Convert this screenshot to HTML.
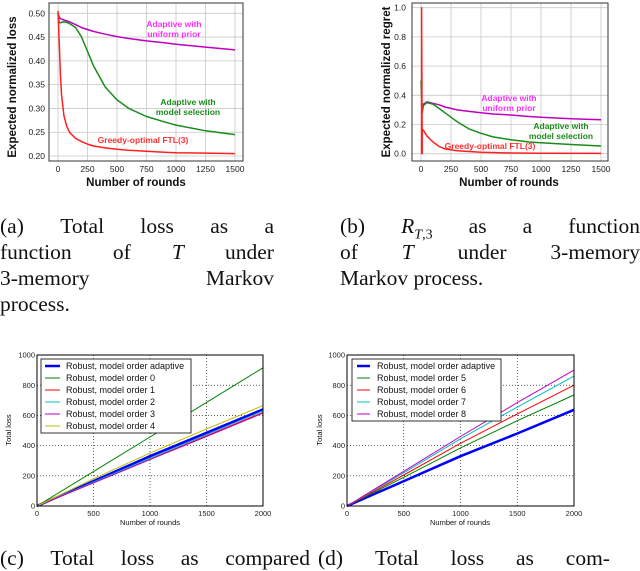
<!DOCTYPE html>
<html><head><meta charset="utf-8">
<style>
body{margin:0;background:#fff;width:640px;height:559px;overflow:hidden;position:relative;font-family:"Liberation Serif",serif}
svg{position:absolute;left:0;top:0}
.cap{position:absolute;font-size:21.5px;color:#111;line-height:26px}
.ln{display:flex;justify-content:space-between;white-space:nowrap;height:26px}
i{font-style:italic}
</style></head><body>
<svg id="fig" width="640" height="559"></svg>

<div class="cap" style="left:0;top:213px;width:274px">
<div class="ln"><span>(a)</span><span>Total</span><span>loss</span><span>as</span><span>a</span></div>
<div class="ln"><span>function</span><span>of</span><span><i>T</i></span><span>under</span></div>
<div class="ln"><span>3-memory</span><span>Markov</span></div>
<div class="ln"><span>process.</span></div>
</div>
<div class="cap" style="left:340px;top:213px;width:300px">
<div class="ln"><span>(b)</span><span><i>R</i><sub style="font-size:14px"><i>T</i>,3</sub></span><span>as</span><span>a</span><span>function</span></div>
<div class="ln"><span>of</span><span><i>T</i></span><span>under</span><span>3-memory</span></div>
<div class="ln"><span>Markov process.</span></div>
</div>
<div class="cap" style="left:0;top:545px;width:310px">
<div class="ln"><span>(c)</span><span>Total</span><span>loss</span><span>as</span><span>compared</span></div>
</div>
<div class="cap" style="left:318px;top:545px;width:292px">
<div class="ln"><span>(d)</span><span>Total</span><span>loss</span><span>as</span><span>com-</span></div>
</div>

<script>
// ---- Panel (a) data ----
const aX = [0,10,20,30,50,75,100,150,200,250,300,400,500,600,750,900,1000,1250,1500];
const aUniform = [0.50,0.492,0.489,0.488,0.486,0.484,0.482,0.476,0.470,0.466,0.462,0.456,0.451,0.447,0.442,0.438,0.435,0.429,0.423];
const aModelSel = [0.50,0.48,0.48,0.481,0.482,0.481,0.478,0.47,0.45,0.42,0.39,0.345,0.318,0.30,0.283,0.272,0.265,0.253,0.245];
const aGreedy = [0.505,0.44,0.37,0.33,0.285,0.262,0.249,0.237,0.23,0.225,0.221,0.217,0.214,0.212,0.21,0.208,0.207,0.206,0.205];
const aXTicks = [0,250,500,750,1000,1250,1500];
const aYTicks = [0.20,0.25,0.30,0.35,0.40,0.45,0.50];
// ---- Panel (b) data ----
const bX = [0,10,20,50,100,150,200,250,300,400,500,600,750,900,1000,1250,1500];
const bUniform = [0.30,0.30,0.34,0.355,0.345,0.335,0.32,0.31,0.30,0.29,0.28,0.272,0.265,0.255,0.25,0.24,0.232];
const bModelSel = [0.50,0.28,0.33,0.35,0.34,0.31,0.28,0.25,0.22,0.17,0.14,0.115,0.095,0.08,0.075,0.063,0.053];
const bGreedyX = [5,5,10,10,20,50,100,150,200,300,500,750,1000,1500];
const bGreedy = [0,1.0,0,0.17,0.16,0.12,0.08,0.05,0.033,0.02,0.01,0.005,0.003,0.002];
const bXTicks = [0,250,500,750,1000,1250,1500];
const bYTicks = [0.0,0.2,0.4,0.6,0.8,1.0];
// ---- Panel (c) data ----
const cX = [0,500,1000,1500,2000];
const cAdaptive = [0,165,330,485,640];
const cOrder0 = [0,228,457,686,915];
const cOrder1 = [0,155,310,465,620];
const cOrder2 = [0,158,316,472,630];
const cOrder3 = [0,153,307,460,615];
const cOrder4 = [0,180,350,510,665];
const cXTicks = [0,500,1000,1500,2000];
const cYTicks = [0,200,400,600,800,1000];
// ---- Panel (d) data ----
const dAdaptive = [0,165,330,480,637];
const dOrder5 = [0,190,385,565,735];
const dOrder6 = [0,205,415,610,800];
const dOrder7 = [0,220,445,655,860];
const dOrder8 = [0,230,460,685,900];

const NS='http://www.w3.org/2000/svg';
const fig=document.getElementById('fig');
function mk(tag,attrs,parent){const e=document.createElementNS(NS,tag);for(const k in attrs)e.setAttribute(k,attrs[k]);(parent||fig).appendChild(e);return e;}
function scale(d0,d1,p0,p1){return v=>p0+(v-d0)*(p1-p0)/(d1-d0);}
function path(xs,ys,sx,sy){return xs.map((x,i)=>(i?'L':'M')+sx(x).toFixed(1)+','+sy(ys[i]).toFixed(1)).join(' ');}

function panel(cfg){
  const g=mk('g',{});
  
  
  const sx=scale(cfg.xd[0],cfg.xd[1],cfg.xp[0],cfg.xp[1]);
  const sy=scale(cfg.yd[0],cfg.yd[1],cfg.yp[0],cfg.yp[1]);
  const F=cfg.frame;
  cfg.xticks.forEach(t=>{
    const l=mk('line',{x1:sx(t),x2:sx(t),y1:F[1],y2:F[3],stroke:cfg.gridColor,'stroke-width':cfg.gridW,'stroke-dasharray':cfg.gridDash},g);
    
    
    const tx=mk('text',{x:sx(t),y:cfg.xTickY,'font-size':cfg.tickFs,'text-anchor':'middle',fill:'#222','font-family':'Liberation Sans, sans-serif'},g);
    tx.textContent=cfg.xfmt(t);
    
    
  });
  cfg.yticks.forEach(t=>{
    const l=mk('line',{x1:F[0],x2:F[2],y1:sy(t),y2:sy(t),stroke:cfg.gridColor,'stroke-width':cfg.gridW,'stroke-dasharray':cfg.gridDash},g);
    
    
    const tx=mk('text',{x:cfg.yTickX,y:sy(t)+cfg.tickFs*0.35,'font-size':cfg.tickFs,'text-anchor':'end',fill:'#222','font-family':'Liberation Sans, sans-serif'},g);
    tx.textContent=cfg.yfmt(t);
    
    
  });
  cfg.series.forEach(s=>{
    const p=mk('path',{d:path(s.x,s.y,sx,sy),fill:'none',stroke:s.c,'stroke-width':s.w,'stroke-linejoin':'round'},g);
    
    
  });
  const fr=mk('rect',{x:F[0],y:F[1],width:F[2]-F[0],height:F[3]-F[1],fill:'none',stroke:cfg.frameColor,'stroke-width':cfg.frameW},g);
  
  
  const xl=mk('text',{x:cfg.xLab[0],y:cfg.xLab[1],'font-size':cfg.labFs,'font-weight':cfg.labW,'text-anchor':'middle',fill:'#111','font-family':'Liberation Sans, sans-serif'},g);
  xl.textContent='Number of rounds';
  
  
  const yl=mk('text',{x:0,y:0,transform:`translate(${cfg.yLab[0]},${cfg.yLab[1]}) rotate(-90)`,'font-size':cfg.labFs,'font-weight':cfg.labW,'text-anchor':'middle',fill:'#111','font-family':'Liberation Sans, sans-serif'},g);
  yl.textContent=cfg.yTitle;
  
  
  (cfg.notes||[]).forEach(n=>{
    const t=mk('text',{x:n[0],y:n[1],'font-size':8.5,'font-weight':'bold','text-anchor':'middle',fill:n[3],'font-family':'Liberation Sans, sans-serif'},g);
    t.textContent=n[2];
    
    
  });
  if(cfg.legend){
    const L=cfg.legend;
    const r=mk('rect',{x:L.box[0],y:L.box[1],width:L.box[2],height:L.box[3],fill:'#fff',stroke:'#000','stroke-width':0.8},g);
    
    
    cfg.series.forEach((s,i)=>{
      const y=L.y0+i*12;
      const l=mk('line',{x1:L.lx[0],x2:L.lx[1],y1:y,y2:y,stroke:s.c,'stroke-width':s.w},g);
      
      
      const t=mk('text',{x:L.tx,y:y+3.2,'font-size':9,fill:'#111','font-family':'Liberation Sans, sans-serif'},g);
      t.textContent=s.label;
      
      
    });
  }
}

const MG='#c000c0',GR='#1a8c1a',RD='#ff2020';
panel({name:'panel-a-loss',xd:[0,1500],xp:[58,235],yd:[0.20,0.50],yp:[156,13.3],frame:[49,3,243,161],
  xticks:aXTicks,yticks:aYTicks,xfmt:v=>String(v),yfmt:v=>v.toFixed(2),gridColor:'#c8c8c8',gridW:0.8,gridDash:'none',
  tickFs:8.5,xTickY:172,yTickX:45,frameColor:'#333',frameW:1,xLab:[136,186],yLab:[16,87],labFs:11.5,labW:'bold',
  yTitle:'Expected normalized loss',
  series:[{name:'line-uniform-prior',x:aX,y:aUniform,c:MG,w:1.5},{name:'line-model-selection',x:aX,y:aModelSel,c:GR,w:1.5},{name:'line-greedy-ftl3',x:aX,y:aGreedy,c:RD,w:1.5}],
  notes:[[174,27,'Adaptive with','#ff30ff'],[174,37,'uniform prior','#ff30ff'],[188,105,'Adaptive with',GR],[188,115,'model selection',GR],[143,143,'Greedy-optimal FTL(3)','#ff3030']]});
panel({name:'panel-b-regret',xd:[0,1500],xp:[421,601],yd:[0,1.0],yp:[153.7,7.7],frame:[412,3,608,161],
  xticks:bXTicks,yticks:bYTicks,xfmt:v=>String(v),yfmt:v=>v.toFixed(1),gridColor:'#c8c8c8',gridW:0.8,gridDash:'none',
  tickFs:8.5,xTickY:172,yTickX:406,frameColor:'#333',frameW:1,xLab:[509,186],yLab:[390,82],labFs:11.5,labW:'bold',
  yTitle:'Expected normalized regret',
  series:[{name:'line-uniform-prior',x:bX,y:bUniform,c:MG,w:1.5},{name:'line-model-selection',x:bX,y:bModelSel,c:GR,w:1.5},{name:'line-greedy-ftl3',x:bGreedyX,y:bGreedy,c:RD,w:1.5}],
  notes:[[509,101,'Adaptive with','#ff30ff'],[509,111,'uniform prior','#ff30ff'],[561,129,'Adaptive with',GR],[561,139,'model selection',GR],[490,149,'Greedy-optimal FTL(3)','#ff3030']]});
panel({name:'panel-c-total-loss',xd:[0,2000],xp:[37,263],yd:[0,1000],yp:[506,355],frame:[37,355,263,506],
  xticks:cXTicks,yticks:cYTicks,xfmt:v=>String(v),yfmt:v=>String(v),gridColor:'#000',gridW:0.6,gridDash:'1,2',
  tickFs:7.5,xTickY:516,yTickX:35,frameColor:'#000',frameW:1,xLab:[150,525],yLab:[11,430],labFs:7.5,labW:'normal',
  yTitle:'Total loss',
  series:[{name:'line-adaptive',label:'Robust, model order adaptive',x:cX,y:cAdaptive,c:'#0000ff',w:2.5},
    {name:'line-order-0',label:'Robust, model order 0',x:cX,y:cOrder0,c:'#008000',w:1},
    {name:'line-order-1',label:'Robust, model order 1',x:cX,y:cOrder1,c:'#ff0000',w:1},
    {name:'line-order-2',label:'Robust, model order 2',x:cX,y:cOrder2,c:'#00bfbf',w:1},
    {name:'line-order-3',label:'Robust, model order 3',x:cX,y:cOrder3,c:'#bf00bf',w:1},
    {name:'line-order-4',label:'Robust, model order 4',x:cX,y:cOrder4,c:'#bfbf00',w:1}],
  legend:{box:[41,359,150,74],lx:[45,60],tx:[66],y0:366}});
panel({name:'panel-d-total-loss',xd:[0,2000],xp:[347,574],yd:[0,1000],yp:[506,355],frame:[347,355,574,506],
  xticks:cXTicks,yticks:cYTicks,xfmt:v=>String(v),yfmt:v=>String(v),gridColor:'#000',gridW:0.6,gridDash:'1,2',
  tickFs:7.5,xTickY:516,yTickX:345,frameColor:'#000',frameW:1,xLab:[460,525],yLab:[322,430],labFs:7.5,labW:'normal',
  yTitle:'Total loss',
  series:[{name:'line-adaptive',label:'Robust, model order adaptive',x:cX,y:dAdaptive,c:'#0000ff',w:2.5},
    {name:'line-order-5',label:'Robust, model order 5',x:cX,y:dOrder5,c:'#008000',w:1},
    {name:'line-order-6',label:'Robust, model order 6',x:cX,y:dOrder6,c:'#ff0000',w:1},
    {name:'line-order-7',label:'Robust, model order 7',x:cX,y:dOrder7,c:'#00bfbf',w:1},
    {name:'line-order-8',label:'Robust, model order 8',x:cX,y:dOrder8,c:'#bf00bf',w:1}],
  legend:{box:[352,359,149,62],lx:[357,370],tx:[377],y0:366}});
</script>
</body></html>
